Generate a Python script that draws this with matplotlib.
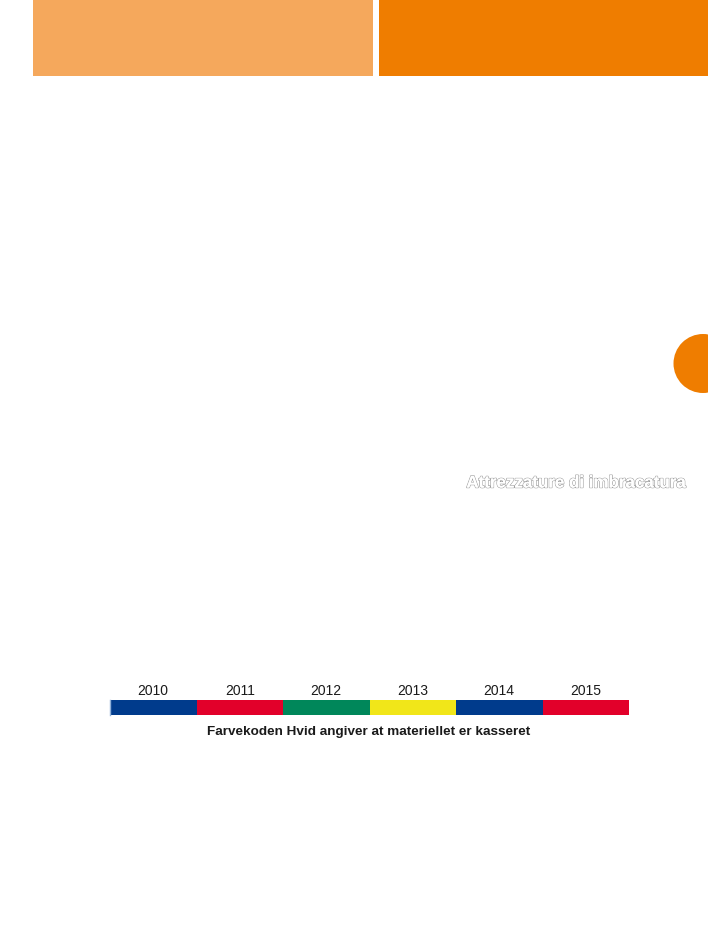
import matplotlib.pyplot as plt
import matplotlib.patheffects as pe
from matplotlib.patches import Circle

# colour code per year
years = ['2010', '2011', '2012', '2013', '2014', '2015']
year_colors = ['#003b8c', '#e2002a', '#00875a', '#f1e619', '#003b8c', '#e2002a']
caption = 'Farvekoden Hvid angiver at materiellet er kasseret'
side_title = 'Attrezzature di imbracatura'

# header blocks
header_colors = ['#f5a85c', '#ef7d00']

fig = plt.figure(figsize=(7.08, 9.43), dpi=100, facecolor='white')
ax = fig.add_axes([0, 0, 1, 1])
ax.set_xlim(0, 708)
ax.set_ylim(943, 0)
ax.axis('off')

# header bars
ax.bar([33, 379], [76, 76], width=[340, 329], bottom=0, align='edge',
       color=header_colors, linewidth=0)

# tab circle on the right edge
ax.add_patch(Circle((703, 363.5), 29.5, color='#ef7d00', lw=0))

# outlined side title
ax.text(685, 483, side_title, ha='right', va='center', fontsize=12.2,
        fontweight='bold', color='white', family=['Liberation Sans', 'DejaVu Sans'],
        path_effects=[pe.withStroke(linewidth=1.0, foreground='#a0a0a0'),
                      pe.Normal()])

# year colour strip
seg_w = 86.5
x0 = 110
lefts = [x0 + i * seg_w for i in range(len(years))]
ax.bar(lefts, [15] * len(years), width=seg_w, bottom=700, align='edge',
       color=year_colors, linewidth=0)
ax.plot([109.5, 109.5], [700, 715], color='#8fb0d8', lw=1)
for lx, yr in zip(lefts, years):
    ax.text(lx + seg_w / 2, 691, yr, ha='center', va='center',
            fontsize=10, color='#1a1a1a', family=['Liberation Sans', 'DejaVu Sans'])

ax.text(369, 732, caption, ha='center', va='center', fontsize=9.7,
        fontweight='bold', color='#1a1a1a',
        family=['Liberation Sans', 'DejaVu Sans'])

fig.savefig('out.png', dpi=100, facecolor='white')
